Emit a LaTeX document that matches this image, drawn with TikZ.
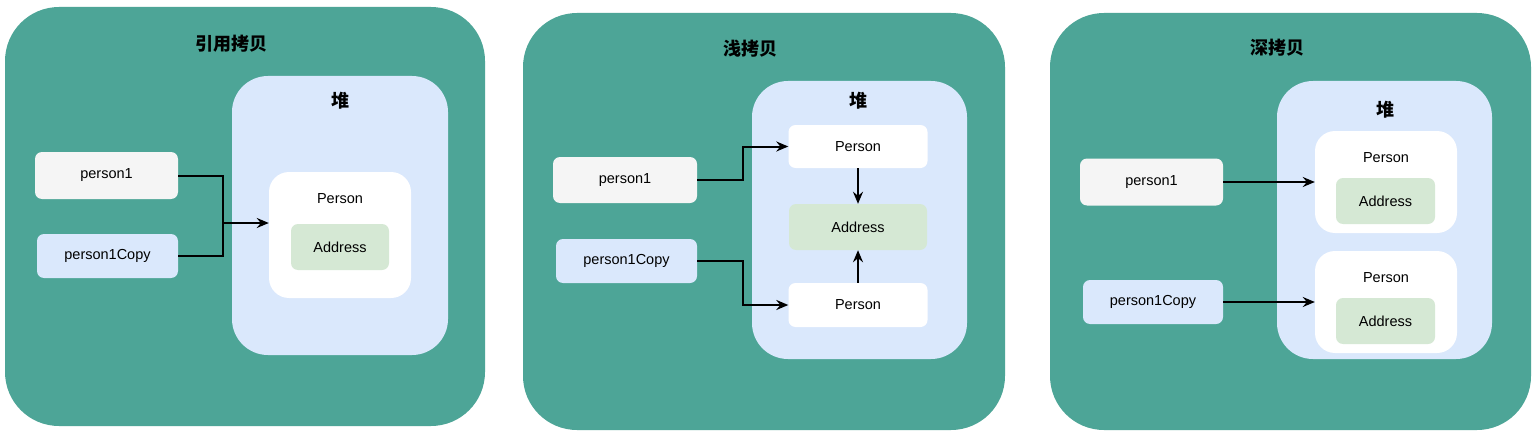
\documentclass[tikz,border=0pt]{standalone}
\usepackage{fontspec}
\setmainfont{Liberation Sans}
\newfontfamily\cjk{Noto Sans CJK SC}
\usepackage{xcolor}
\usetikzlibrary{arrows.meta}
\definecolor{panel}{RGB}{77, 165, 151}
\definecolor{heap}{RGB}{218, 232, 252}
\definecolor{addr}{RGB}{213, 232, 212}
\definecolor{ref}{RGB}{245, 245, 245}

\begin{document}
\begin{tikzpicture}[x=1pt, y=-1pt, every node/.style={align=center, font=\fontsize{14.5}{17}\selectfont},
  panelbox/.style={fill=panel, rounded corners=54pt, minimum width=#1, minimum height=417pt},
  heapbox/.style={fill=heap, rounded corners=36pt, minimum width=215pt, minimum height=278pt},
  varbox/.style={rounded corners=7pt, minimum width=142pt, minimum height=45pt},
  objbox/.style={fill=white, rounded corners=#1, minimum width=140pt},
  addrbox/.style={fill=addr, rounded corners=7pt, minimum height=46pt},
  title/.style={font=\cjk\bfseries\fontsize{18}{20}\selectfont},
  wire/.style={line width=2pt},
  link/.style={wire, -{Stealth[length=12pt, width=10pt, inset=4pt]}}]
\fill[white] (0,0) rectangle (1540,436);
\useasboundingbox (0,0) rectangle (1540,436);

% Reference copy
\node[panelbox=480pt, minimum height=419pt] (panelA) at (245,216.5) {};
\node[title] (titleA) at (231,44) {引用拷贝};
\node[heapbox, minimum width=216pt, minimum height=279pt] (heapA) at (340,215.5) {};
\node[title] (heapA-t) at (340,101) {堆};
\node[varbox, fill=ref, minimum width=143pt, minimum height=47pt] (p1A) at (106.5,175.5) {person1};
\node[varbox, fill=heap, minimum width=141pt, minimum height=44pt] (copyA) at (107.5,256) {person1Copy};
\node[objbox=20pt, minimum width=142pt, minimum height=126pt] (personA) at (340,235) {};
\node (personA-t) at (340,199) {Person};
\node[addrbox, minimum width=98pt] (addrA) at (340,247) {Address};
\coordinate (joinA) at (223,223);
\draw[wire] (p1A.east) -| (joinA);
\draw[wire] (copyA.east) -| (joinA);
\draw[link] (joinA) -- (personA.west |- joinA);

% Shallow copy
\node[panelbox=482pt] (panelB) at (764,221.5) {};
\node[title] (titleB) at (750,49) {浅拷贝};
\node[heapbox] (heapB) at (859.5,220) {};
\node[title] (heapB-t) at (858,101) {堆};
\node[varbox, fill=ref, minimum width=144pt, minimum height=46pt] (p1B) at (625,180) {person1};
\node[varbox, fill=heap, minimum width=141pt, minimum height=44pt] (copyB) at (626.5,261) {person1Copy};
\node[objbox=7pt, minimum width=139pt, minimum height=43pt] (personB1) at (858,146.5) {Person};
\node[addrbox, minimum width=138pt] (addrB) at (858,227) {Address};
\node[objbox=7pt, minimum width=139pt, minimum height=44pt] (personB2) at (858,305) {Person};
\draw[link] (p1B.east) -- ++(46,0) |- (personB1.west);
\draw[link] (copyB.east) -- ++(46,0) |- (personB2.west);
\draw[link] (personB1.south) -- (addrB.north);
\draw[link] (personB2.north) -- (addrB.south);

% Deep copy
\node[panelbox=481pt] (panelC) at (1290.5,221.5) {};
\node[title] (titleC) at (1277,48) {深拷贝};
\node[heapbox] (heapC) at (1384.5,220) {};
\node[title] (heapC-t) at (1385,110) {堆};
\node[varbox, fill=ref, minimum width=143pt, minimum height=47pt] (p1C) at (1151.5,182) {person1};
\node[varbox, fill=heap, minimum width=140pt, minimum height=44pt] (copyC) at (1153,302) {person1Copy};
\node[objbox=20pt, minimum width=142pt, minimum height=102pt] (personC1) at (1386,182) {};
\node (personC1-t) at (1386,158) {Person};
\node[addrbox, minimum width=99pt] (addrC1) at (1385.5,201) {Address};
\node[objbox=20pt, minimum width=142pt, minimum height=102pt] (personC2) at (1386,302) {};
\node (personC2-t) at (1386,278) {Person};
\node[addrbox, minimum width=99pt] (addrC2) at (1385.5,321) {Address};
\draw[link] (p1C.east) -- (personC1.west);
\draw[link] (copyC.east) -- (personC2.west);
\end{tikzpicture}
\end{document}
